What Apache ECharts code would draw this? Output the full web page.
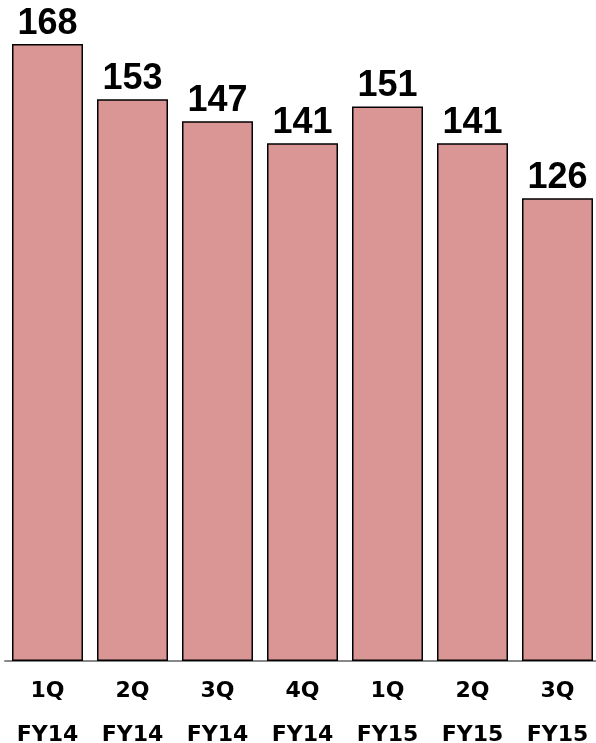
<!DOCTYPE html>
<html>
<head>
<meta charset="utf-8">
<script src="https://cdn.jsdelivr.net/npm/echarts@6/dist/echarts.min.js"></script>
<style>
  html, body { margin: 0; padding: 0; background: #fff; }
  #chart { width: 596px; height: 743px; }
</style>
</head>
<body>
<div id="chart"></div>
<script>
var cuartos = ['1Q', '2Q', '3Q', '4Q', '1Q', '2Q', '3Q'];
var anios = ['FY14', 'FY14', 'FY14', 'FY14', 'FY15', 'FY15', 'FY15'];
var valores = [168, 153, 147, 141, 151, 141, 126];

var categorias = cuartos.map(function (q, i) { return q + '\n' + anios[i]; });

var myChart = echarts.init(document.getElementById('chart'));
var option = {
    animation: false,
    grid: {
        left: 5,
        right: -4,
        top: 0,
        bottom: 82,
        containLabel: false,
        outerBoundsMode: 'none'
    },
    xAxis: {
        type: 'category',
        data: categorias,
        axisLine: { lineStyle: { color: '#888', width: 2 } },
        axisTick: { show: false },
        axisLabel: {
            color: '#000',
            fontFamily: 'DejaVu Sans',
            fontWeight: 'bold',
            fontSize: 22,
            lineHeight: 44,
            margin: 8
        }
    },
    yAxis: {
        type: 'value',
        min: 0,
        max: 180,
        show: false,
        splitLine: { show: false }
    },
    series: [{
        type: 'bar',
        data: valores,
        barWidth: 71,
        itemStyle: {
            color: '#D99694',
            borderColor: '#000',
            borderWidth: 1.5
        },
        label: {
            show: true,
            position: 'top',
            distance: 2,
            color: '#000',
            fontFamily: 'Liberation Sans',
            fontWeight: 'bold',
            fontSize: 36
        }
    }]
};
myChart.setOption(option);
</script>
</body>
</html>
